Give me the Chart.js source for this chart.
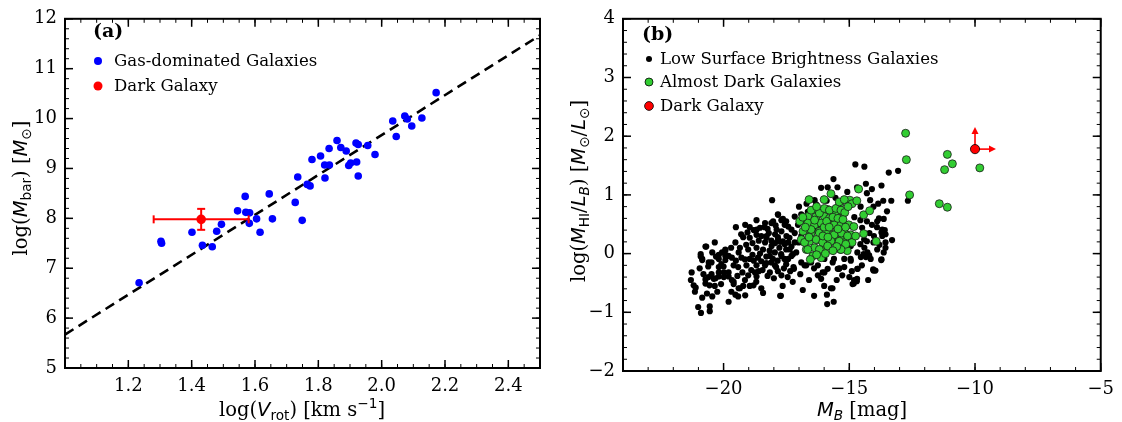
<!DOCTYPE html>
<html>
<head>
<meta charset="utf-8">
<script src="https://cdn.jsdelivr.net/npm/chart.js@4.4.1/dist/chart.umd.min.js"></script>
<style>
html, body { margin: 0; padding: 0; background: #fff; }
#wrap { position: relative; width: 1122px; height: 422px; }
#panelA { position: absolute; left: 0; top: 0; }
#panelB { position: absolute; left: 561px; top: 0; }
</style>
</head>
<body>
<div id="wrap">
  <canvas id="panelA" width="561" height="422"></canvas>
  <canvas id="panelB" width="561" height="422"></canvas>
</div>
<script>
// ---- panel (a): baryonic Tully-Fisher ----
const gasLogV = [1.234,1.303,1.305,1.401,1.434,1.465,1.479,1.494,1.545,1.569,1.571,1.583,1.582,1.605,1.616,1.645,1.655,1.727,1.735,1.749,1.765,1.774,1.780,1.807,1.820,1.835,1.821,1.834,1.859,1.871,1.888,1.896,1.902,1.919,1.926,1.921,1.926,1.956,1.979,2.035,2.046,2.073,2.081,2.095,2.127,2.172];
const gasLogM = [6.71,7.54,7.50,7.72,7.46,7.43,7.74,7.88,8.15,8.44,8.12,8.11,7.90,7.99,7.72,8.49,7.99,8.32,8.83,7.96,8.68,8.65,9.18,9.25,9.07,9.07,8.81,9.40,9.56,9.42,9.35,9.06,9.11,9.51,9.48,9.13,8.85,9.46,9.28,9.95,9.64,10.05,9.99,9.85,10.01,10.52];
const darkLogV = [1.43];
const darkLogM = [7.98];
const darkErrV = [0.15];
const darkErrM = [0.21];
const fitLogV = [1.0, 2.5];
const fitLogM = [5.67, 11.67];
const aXTicks = [1.2, 1.4, 1.6, 1.8, 2.0, 2.2, 2.4];
const aYTicks = [5, 6, 7, 8, 9, 10, 11, 12];

// ---- panel (b): M_HI/L_B vs M_B ----
const lsbPoints = [
  [-19.51,0.45],[-20.35,0.19],[-20.69,0.12],[-20.91,-0.05],[-20.85,-0.11],[-20.48,-0.15],[-20.61,-0.22],[-21.27,-0.32],[-20.72,-0.44],[-21.19,-0.54],
  [-21.11,-0.58],[-21.14,-0.65],[-20.66,-0.68],[-20.45,-0.73],[-20.56,-0.54],[-21.01,-0.91],[-20.90,-1.01],[-20.55,-0.90],[-20.55,-0.98],[-19.80,-0.82],
  [-20.48,-0.35],[-20.32,-0.42],[-20.19,-0.39],[-20.19,-0.23],[-20.09,-0.18],[-19.93,-0.11],[-19.80,-0.04],[-19.67,-0.07],[-19.51,-0.12],[-19.99,-0.32],
  [-19.80,-0.39],[-19.67,-0.45],[-19.60,-0.52],[-20.19,-0.02],[-20.06,0.02],[-19.93,0.05],[-19.69,-0.65],[-19.53,-0.70],
  [-18.07,0.91],[-17.84,0.67],[-17.64,0.59],[-17.51,0.55],[-18.69,0.57],[-18.96,0.45],[-18.37,0.45],[-18.10,0.52],[-17.93,0.48],
  [-19.22,0.28],[-18.96,0.27],[-18.69,0.32],[-18.50,0.30],[-18.30,0.27],[-18.10,0.22],[-17.84,0.28],[-17.64,0.21],[-17.38,0.27],
  [-19.35,0.10],[-19.02,0.07],[-18.69,0.10],[-18.43,0.07],[-18.17,0.05],[-17.78,0.10],[-17.51,0.07],
  [-19.29,-0.07],[-18.96,-0.09],[-18.63,-0.07],[-18.30,-0.05],[-18.04,-0.09],[-17.71,-0.01],[-17.58,-0.09],
  [-19.42,-0.23],[-19.09,-0.20],[-18.69,-0.20],[-18.50,-0.13],[-17.91,-0.23],[-17.51,-0.18],
  [-19.02,-0.37],[-18.69,-0.39],[-17.84,-0.30],[-17.45,-0.40],
  [-19.22,-0.55],[-19.35,-0.59],[-18.96,-0.55],[-18.50,-0.59],[-18.43,-0.67],[-19.42,-0.73],[-17.75,-0.72],
  [-16.12,1.12],[-15.86,1.13],[-16.38,0.91],[-16.32,0.84],[-17.43,0.46],[-17.30,0.41],[-17.43,0.19],[-17.17,0.19],[-17.30,-0.04],[-17.11,0.02],
  [-17.20,-0.26],[-16.91,-0.15],[-16.71,-0.20],[-16.25,-0.20],[-16.06,-0.32],[-15.86,-0.26],[-16.12,-0.43],[-15.73,-0.59],[-15.89,-0.70],
  [-14.76,1.52],[-14.40,1.48],[-15.63,1.27],[-15.08,1.05],[-14.69,1.13],[-14.30,1.03],[-14.10,1.10],[-14.17,0.91],[-14.04,0.80],[-14.56,0.57],
  [-14.30,0.55],[-14.10,0.49],[-14.49,0.44],[-14.56,0.16],[-14.30,0.21],[-14.04,0.19],[-14.43,-0.01],[-14.23,-0.04],[-15.61,-0.09],[-14.95,-0.09],
  [-14.04,-0.29],[-15.41,-0.26],[-15.28,-0.37],[-14.69,-0.43],[-14.82,-0.51],[-15.67,-0.59],
  [-13.43,1.38],[-13.06,1.41],[-13.72,1.16],[-13.65,0.90],[-13.33,0.90],[-12.67,0.90],[-13.50,0.72],[-13.82,0.60],[-13.89,0.55],[-13.63,0.59],
  [-13.69,0.41],[-13.59,0.40],[-13.72,0.36],[-13.56,0.33],[-13.30,0.23],[-14.02,0.30],[-13.56,0.10],[-13.63,0.02],[-13.72,-0.10],[-13.96,-0.29],[-14.05,-0.27],
  [-14.34,1.19],[-14.21,-0.03],[-14.34,-0.06],[-14.54,-0.06],[-14.67,-0.26],[-14.87,-0.52],[-14.70,-0.47],[-13.73,-0.11],
  [-15.88,-0.86],[-16.25,-0.37],[-15.99,-0.32],[-15.46,-0.26],[-15.39,-0.25],[-17.70,-0.37],[-17.72,-0.72],[-17.22,-0.23],[-16.78,-0.20],[-14.81,-0.45],[-14.68,-0.26],[-15.47,1.13],
  [-17.17,0.63],[-16.91,0.67],[-16.78,0.57],[-16.65,0.71],[-17.04,0.49],[-17.17,0.35],[-16.91,0.30],[-17.01,0.19],
  [-19.14,0.49],[-18.68,0.41],[-18.35,0.52],[-18.29,0.30],[-18.03,0.55],[-17.89,0.41],[-17.83,0.66],[-17.70,0.57],[-17.57,0.49],[-17.50,0.30],
  [-20.72,0.12],[-19.93,0.07],[-19.93,-0.04],[-19.53,0.19],[-19.40,0.02],[-20.19,-0.09],[-20.59,-0.15],[-20.85,-0.09],[-20.91,-0.01],
  [-20.72,-0.51],[-20.39,-0.43],[-20.19,-0.32],[-19.99,-0.40],[-19.80,-0.32],[-19.60,-0.48],[-19.40,-0.59],[-19.14,-0.71],[-18.81,-0.54],[-18.75,-0.32],
  [-18.35,-0.20],[-18.16,-0.32],[-17.96,-0.20],
  [-18.35,0.19],[-18.09,0.13],[-17.83,0.24],[-17.57,0.16],[-17.37,0.07],[-17.96,0.02],[-17.70,-0.04],[-17.43,-0.09],[-17.24,-0.01],[-18.16,-0.04],
  [-14.94,0.13],[-14.68,0.02],[-14.41,0.24],[-14.28,0.02],[-14.15,-0.09],[-13.89,0.07],[-13.69,0.30],[-13.56,0.19],
  [-16.25,-0.04],[-15.99,-0.09],[-15.66,-0.15],[-15.20,-0.09],[-14.94,-0.12],[-15.20,-0.23],[-16.52,-0.15],
  [-19.10,0.15],[-18.85,0.18],[-18.60,0.22],[-18.20,0.35],[-17.95,0.33],[-17.70,0.38],[-18.85,-0.02],[-18.45,-0.28],[-18.00,-0.42],[-17.65,-0.55],
  [-17.25,-0.48],[-16.95,-0.35],[-16.60,-0.45],[-16.85,-0.62],[-16.40,-0.72],[-15.62,-0.82],
  [-19.30,0.33],[-19.05,0.36],[-18.80,0.40],[-18.55,0.44],[-18.25,0.42],[-17.95,0.18],[-17.75,0.20],[-17.30,0.12],[-19.15,-0.10],[-18.80,-0.12],
  [-18.55,0.00],[-18.30,-0.16],[-18.10,-0.15],[-17.85,-0.12],[-17.60,-0.25],[-17.35,-0.30],[-19.25,-0.32],[-18.90,-0.28],[-18.60,-0.30],[-18.25,-0.38],
  [-19.60,-0.20],[-19.70,0.10],[-19.45,-0.38],[-19.15,-0.45],[-18.70,-0.48],
  [-20.95,-0.25],[-20.80,-0.35],[-20.60,-0.40],[-20.35,-0.55],[-20.10,-0.52],[-20.30,-0.05],[-20.45,0.02],[-20.00,-0.22],[-20.85,-0.75],[-21.30,-0.45],[-20.25,-0.65],
  [-14.90,-0.30],[-14.50,-0.20],[-14.20,0.35],[-13.90,0.45],[-14.80,0.62],[-14.55,0.80],[-13.85,0.85],[-14.25,-0.45],[-13.80,0.15],[-15.00,-0.40],[-14.40,0.10],
  [-16.60,0.30],[-16.30,0.45],[-15.90,0.90],[-15.55,0.95],[-16.70,0.85],[-17.00,0.80],[-16.40,-0.25],[-16.00,-0.55],[-15.50,-0.45]
];
const adgPoints = [
  [-15.73,1.02],[-16.45,0.74],[-16.12,0.72],[-15.86,0.75],[-16.65,0.63],[-16.32,0.63],[-15.99,0.63],[-16.97,0.55],[-16.65,0.52],[-16.38,0.49],
  [-16.12,0.52],[-15.79,0.52],[-16.84,0.38],[-16.52,0.35],[-16.19,0.38],[-15.86,0.35],[-16.91,0.24],[-16.58,0.21],[-16.25,0.24],[-15.93,0.21],
  [-16.71,0.07],[-16.38,0.10],[-16.06,0.05],[-16.45,-0.04],[-16.12,-0.07],
  [-14.63,1.10],[-14.98,0.91],[-14.89,0.85],[-15.37,0.85],[-15.48,0.77],[-15.22,0.69],[-15.54,0.66],[-15.67,0.49],[-15.35,0.52],[-15.02,0.49],
  [-14.82,0.46],[-15.54,0.35],[-15.22,0.38],[-14.95,0.32],[-15.67,0.21],[-15.35,0.24],[-15.15,0.19],[-14.89,0.19],[-15.35,0.07],[-15.08,0.05],
  [-14.43,0.66],[-14.19,0.73],[-14.43,0.34],
  [-12.76,2.05],[-12.73,1.60],[-12.60,1.00],[-13.93,0.21],[-11.42,0.85],[-11.10,0.79],[-11.10,1.69],[-10.90,1.53],[-11.21,1.43],[-9.81,1.46],
  [-16.52,0.74],[-16.19,0.69],[-15.99,0.77],[-15.79,0.74],[-15.53,0.77],[-15.40,0.88],[-15.33,0.74],[-15.18,0.70],
  [-16.38,0.57],[-15.79,0.60],[-15.60,0.49],[-15.33,0.49],[-16.52,0.41],[-16.19,0.35],[-15.92,0.38],[-15.60,0.32],[-15.31,0.35],[-15.07,0.30],
  [-16.32,0.24],[-16.06,0.19],[-15.73,0.21],[-15.40,0.21],[-15.14,0.16],[-16.19,0.07],[-15.86,0.13],[-15.33,0.07],
  [-16.78,0.19],[-16.65,0.07],
  [-16.85,0.62],[-16.75,0.45],[-16.60,0.28],[-16.30,0.80],[-16.00,0.45],[-15.90,0.55],[-15.65,0.62],[-15.45,0.60],[-15.25,0.58],[-15.15,0.45],
  [-15.45,0.42],[-15.80,0.45],[-16.05,0.30],[-15.85,0.28],[-15.50,0.12],[-15.65,0.05],[-15.95,0.00],[-16.30,-0.02],[-16.55,-0.10],[-15.20,0.92],
  [-15.05,0.80],[-14.70,0.90],[-14.75,0.30],[-16.00,0.92],[-16.60,0.92]
];
const darkMB = [-10.0];
const darkRatio = [1.78];
const bXTicks = [-20, -15, -10, -5];
const bYTicks = [-2, -1, 0, 1, 2, 3, 4];

const SERIF = '"DejaVu Serif", "Liberation Serif", serif';
const SANS = '"DejaVu Sans", sans-serif';
const TITLE_SIZE = 19.5;

// text with sub/superscripts, centred on (cx, cy)
function drawRich(ctx, parts, cx, cy, size, angle) {
  const fontOf = p => {
    const s = (p.sub || p.sup) ? size * 0.7 : size;
    return (p.it ? 'oblique ' : '') + s + 'px ' + (p.m ? SANS : SERIF);
  };
  let w = 0;
  parts.forEach(p => { ctx.font = fontOf(p); p.w = ctx.measureText(p.t).width; w += p.w; });
  ctx.save();
  ctx.translate(cx, cy);
  ctx.rotate(angle || 0);
  ctx.fillStyle = '#000';
  ctx.textBaseline = 'alphabetic';
  ctx.textAlign = 'left';
  let x = -w / 2;
  const base = size * 0.35;
  parts.forEach(p => {
    ctx.font = fontOf(p);
    const dy = p.sub ? size * 0.22 : (p.sup ? -size * 0.4 : 0);
    ctx.fillText(p.t, x, base + dy);
    x += p.w;
  });
  ctx.restore();
}

function dot(ctx, x, y, r, fill, edge) {
  ctx.beginPath();
  ctx.arc(x, y, r, 0, Math.PI * 2);
  ctx.fillStyle = fill;
  ctx.fill();
  if (edge) { ctx.lineWidth = 0.8; ctx.strokeStyle = edge; ctx.stroke(); }
}

// frame + inward major/minor ticks on all four sides
const frameTicks = {
  id: 'frameTicks',
  afterDraw(chart, args, opts) {
    const {ctx, chartArea: a, scales: {x, y}} = chart;
    const seg = (x1, y1, x2, y2) => { ctx.beginPath(); ctx.moveTo(x1, y1); ctx.lineTo(x2, y2); ctx.stroke(); };
    const steps = (min, max, step) => {
      const out = [];
      const n = Math.round((max - min) / step);
      for (let i = 0; i <= n; i++) out.push(min + i * step);
      return out;
    };
    ctx.save();
    ctx.strokeStyle = '#000';
    ctx.lineWidth = 1;
    steps(x.min, x.max, opts.xMinor).forEach(v => {
      const p = x.getPixelForValue(v);
      seg(p, a.bottom, p, a.bottom - 4); seg(p, a.top, p, a.top + 4);
    });
    steps(y.min, y.max, opts.yMinor).forEach(v => {
      const p = y.getPixelForValue(v);
      seg(a.left, p, a.left + 4, p); seg(a.right, p, a.right - 4, p);
    });
    ctx.lineWidth = 1.5;
    x.ticks.forEach(t => {
      const p = x.getPixelForValue(t.value);
      seg(p, a.bottom, p, a.bottom - 8); seg(p, a.top, p, a.top + 8);
    });
    y.ticks.forEach(t => {
      const p = y.getPixelForValue(t.value);
      seg(a.left, p, a.left + 8, p); seg(a.right, p, a.right - 8, p);
    });
    ctx.lineWidth = 2;
    ctx.strokeRect(a.left, a.top, a.width, a.height);
    ctx.restore();
  }
};

// panel tag, legend and axis titles
const annot = {
  id: 'annot',
  afterDraw(chart, args, o) {
    const ctx = chart.ctx;
    ctx.save();
    ctx.fillStyle = '#000';
    ctx.font = 'bold 19px ' + SERIF;
    ctx.textBaseline = 'middle';
    ctx.fillText(o.tag[0], o.tag[1], o.tag[2]);
    ctx.font = '16.6px ' + SERIF;
    o.items.forEach(it => {
      dot(ctx, o.markX, it.y, it.r, it.color, it.edge);
      ctx.fillStyle = '#000';
      ctx.fillText(it.label, o.textX, it.y + 1);
    });
    ctx.restore();
    drawRich(ctx, o.xTitle.parts, o.xTitle.x, o.xTitle.y, TITLE_SIZE, 0);
    drawRich(ctx, o.yTitle.parts, o.yTitle.x, o.yTitle.y, TITLE_SIZE, -Math.PI / 2);
  }
};

// error bars (a) / limit arrows (b), drawn just before the red dataset
const darkMarks = {
  id: 'darkMarks',
  beforeDatasetDraw(chart, args, o) {
    if (args.index !== 0) return;
    const {ctx, scales: {x, y}} = chart;
    const seg = (x1, y1, x2, y2) => { ctx.beginPath(); ctx.moveTo(x1, y1); ctx.lineTo(x2, y2); ctx.stroke(); };
    ctx.save();
    ctx.strokeStyle = '#ff0000';
    ctx.fillStyle = '#ff0000';
    ctx.lineWidth = 2;
    if (o.mode === 'err') {
      darkLogV.forEach((v, i) => {
        const px = x.getPixelForValue(v), py = y.getPixelForValue(darkLogM[i]);
        const x1 = x.getPixelForValue(v - darkErrV[i]), x2 = x.getPixelForValue(v + darkErrV[i]);
        const y1 = y.getPixelForValue(darkLogM[i] - darkErrM[i]), y2 = y.getPixelForValue(darkLogM[i] + darkErrM[i]);
        seg(x1, py, x2, py); seg(x1, py - 4, x1, py + 4); seg(x2, py - 4, x2, py + 4);
        seg(px, y1, px, y2); seg(px - 4, y1, px + 4, y1); seg(px - 4, y2, px + 4, y2);
      });
    } else {
      ctx.lineWidth = 1.6;
      darkMB.forEach((v, i) => {
        const px = x.getPixelForValue(v), py = y.getPixelForValue(darkRatio[i]);
        seg(px, py, px, py - 17);
        ctx.beginPath(); ctx.moveTo(px, py - 22); ctx.lineTo(px - 3.5, py - 15); ctx.lineTo(px + 3.5, py - 15); ctx.closePath(); ctx.fill();
        seg(px, py, px + 15, py);
        ctx.beginPath(); ctx.moveTo(px + 21, py); ctx.lineTo(px + 14, py - 3.5); ctx.lineTo(px + 14, py + 3.5); ctx.closePath(); ctx.fill();
      });
    }
    ctx.restore();
  }
};

function axis(min, max, ticks, fmt, pos, size) {
  return {
    type: 'linear', position: pos, min: min, max: max,
    grid: { display: false, drawTicks: false },
    border: { display: false },
    afterBuildTicks: s => { s.ticks = ticks.map(v => ({ value: v })); },
    afterFit: s => { if (pos === 'bottom') s.height = size; else s.width = size; },
    ticks: {
      color: '#000', padding: 8, autoSkip: false, maxRotation: 0,
      font: { family: SERIF, size: 18 },
      callback: fmt
    }
  };
}

const minusFmt = v => String(v).replace('-', '\u2212');

new Chart(document.getElementById('panelA'), {
  type: 'scatter',
  data: {
    datasets: [
      { data: darkLogV.map((v, i) => ({ x: v, y: darkLogM[i] })), pointRadius: 4.8, pointBackgroundColor: '#ff0000', pointBorderWidth: 0 },
      { data: gasLogV.map((v, i) => ({ x: v, y: gasLogM[i] })), pointRadius: 3.8, pointBackgroundColor: '#0000ff', pointBorderWidth: 0 },
      { data: fitLogV.map((v, i) => ({ x: v, y: fitLogM[i] })), showLine: true, pointRadius: 0, borderColor: '#000', borderWidth: 2.6, borderDash: [10, 6] }
    ]
  },
  options: {
    responsive: false, animation: false, events: [],
    layout: { padding: { left: 0, top: 15, right: 21, bottom: 0 } },
    scales: {
      x: axis(1.0, 2.5, aXTicks, v => v.toFixed(1), 'bottom', 54),
      y: axis(5, 12, aYTicks, minusFmt, 'left', 65)
    },
    plugins: {
      legend: { display: false }, tooltip: { enabled: false },
      frameTicks: { xMinor: 0.05, yMinor: 0.2 },
      darkMarks: { mode: 'err' },
      annot: {
        tag: ['(a)', 93, 32],
        markX: 98, textX: 114,
        items: [
          { label: 'Gas-dominated Galaxies', y: 61, r: 4, color: '#0000ff' },
          { label: 'Dark Galaxy', y: 86, r: 4.5, color: '#ff0000' }
        ],
        xTitle: { x: 302, y: 409, parts: [{t:'log('},{t:'V',m:1,it:1},{t:'rot',m:1,sub:1},{t:') [km s'},{t:'\u22121',m:1,sup:1},{t:']'}] },
        yTitle: { x: 20, y: 188, parts: [{t:'log('},{t:'M',m:1,it:1},{t:'bar',m:1,sub:1},{t:') ['},{t:'M',m:1,it:1},{t:'\u2299',m:1,sub:1},{t:']'}] }
      }
    }
  },
  plugins: [frameTicks, darkMarks, annot]
});

new Chart(document.getElementById('panelB'), {
  type: 'scatter',
  data: {
    datasets: [
      { data: darkMB.map((v, i) => ({ x: v, y: darkRatio[i] })), pointRadius: 4.6, pointBackgroundColor: '#ff0000', pointBorderColor: '#000', pointBorderWidth: 0.8 },
      { data: adgPoints.map(p => ({ x: p[0], y: p[1] })), pointRadius: 4, pointBackgroundColor: '#32cd32', pointBorderColor: '#1a1a1a', pointBorderWidth: 0.8 },
      { data: lsbPoints.map(p => ({ x: p[0], y: p[1] })), pointRadius: 3.1, pointBackgroundColor: '#000', pointBorderWidth: 0 }
    ]
  },
  options: {
    responsive: false, animation: false, events: [],
    layout: { padding: { left: 0, top: 12, right: 16, bottom: 0 } },
    scales: {
      x: axis(-24, -5, bXTicks, minusFmt, 'bottom', 51),
      y: axis(-2, 4, bYTicks, minusFmt, 'left', 62)
    },
    plugins: {
      legend: { display: false }, tooltip: { enabled: false },
      frameTicks: { xMinor: 1, yMinor: 0.2 },
      darkMarks: { mode: 'arrow' },
      annot: {
        tag: ['(b)', 81, 35],
        markX: 88, textX: 99,
        items: [
          { label: 'Low Surface Brightness Galaxies', y: 59, r: 3, color: '#000' },
          { label: 'Almost Dark Galaxies', y: 82, r: 4, color: '#32cd32', edge: '#000' },
          { label: 'Dark Galaxy', y: 106, r: 4.4, color: '#ff0000', edge: '#000' }
        ],
        xTitle: { x: 301, y: 409, parts: [{t:'M',m:1,it:1},{t:'B',m:1,it:1,sub:1},{t:' [mag]'}] },
        yTitle: { x: 17, y: 191, parts: [{t:'log('},{t:'M',m:1,it:1},{t:'HI',m:1,sub:1},{t:'/',m:1},{t:'L',m:1,it:1},{t:'B',m:1,it:1,sub:1},{t:') ['},{t:'M',m:1,it:1},{t:'\u2299',m:1,sub:1},{t:'/',m:1},{t:'L',m:1,it:1},{t:'\u2299',m:1,sub:1},{t:']'}] }
      }
    }
  },
  plugins: [frameTicks, darkMarks, annot]
});
</script>
</body>
</html>
